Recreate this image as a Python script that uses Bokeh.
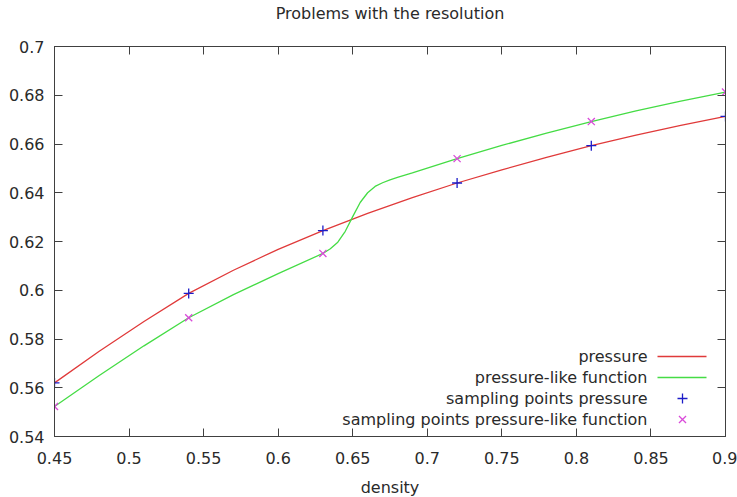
from bokeh.plotting import figure
from bokeh.models import LinearAxis, FixedTicker, Range1d, Label
from bokeh.embed import file_html
from bokeh.resources import INLINE

# ---------------- data ----------------
title_text = "Problems with the resolution"
x_label = "density"

curve_x_pressure = [0.45, 0.48, 0.51, 0.54, 0.57, 0.60, 0.63, 0.66, 0.69,
                    0.72, 0.75, 0.78, 0.81, 0.84, 0.87, 0.90]
curve_y_pressure = [0.5620, 0.5750, 0.5872, 0.5987, 0.6082, 0.6168, 0.6245,
                    0.6315, 0.6380, 0.6440, 0.6494, 0.6545, 0.6593, 0.6636,
                    0.6676, 0.6713]

curve_x_like = [0.45, 0.48, 0.51, 0.54, 0.57, 0.60, 0.63, 0.635, 0.64, 0.645,
                0.65, 0.655, 0.66, 0.665, 0.67, 0.675, 0.68, 0.69, 0.72, 0.75,
                0.78, 0.81, 0.84, 0.87, 0.90]
curve_y_like = [0.5523, 0.5650, 0.5772, 0.5887, 0.5982, 0.6068, 0.6151, 0.6170,
                0.6197, 0.6242, 0.6302, 0.6360, 0.6400, 0.6426, 0.6441, 0.6453,
                0.6463, 0.6482, 0.6540, 0.6594, 0.6645, 0.6692, 0.6736, 0.6776,
                0.6813]

sample_x = [0.45, 0.54, 0.63, 0.72, 0.81, 0.90]
sample_pressure = [0.5620, 0.5987, 0.6245, 0.6440, 0.6593, 0.6713]
sample_like = [0.5523, 0.5887, 0.6151, 0.6540, 0.6692, 0.6813]

x_ticks = [0.45, 0.5, 0.55, 0.6, 0.65, 0.7, 0.75, 0.8, 0.85, 0.9]
x_tick_labels = ["0.45", "0.5", "0.55", "0.6", "0.65", "0.7", "0.75", "0.8", "0.85", "0.9"]
y_ticks = [0.54, 0.56, 0.58, 0.6, 0.62, 0.64, 0.66, 0.68, 0.7]
y_tick_labels = ["0.54", "0.56", "0.58", "0.6", "0.62", "0.64", "0.66", "0.68", "0.7"]

legend_labels = ["pressure", "pressure-like function",
                 "sampling points pressure", "sampling points pressure-like function"]

# ---------------- styles ----------------
RED = "#e03a3a"
GREEN = "#45dc45"
BLUE = "#1c1cc8"
MAGENTA = "#d94ad9"
AXIS = "#404040"
TXT = "#2a2a2a"
FONT = "DejaVu Sans"
FS = "16px"

X0, X1 = 0.45, 0.9
Y0, Y1 = 0.54, 0.7
FW, FH = 671, 390

p = figure(frame_width=FW, frame_height=FH, output_backend="svg", toolbar_location=None,
           x_range=Range1d(X0, X1), y_range=Range1d(Y0, Y1),
           min_border_left=54, min_border_right=12, min_border_top=45, min_border_bottom=62,
           x_axis_label=x_label)
p.grid.visible = False
p.outline_line_color = AXIS
p.background_fill_color = "white"
p.border_fill_color = "white"

xt = FixedTicker(ticks=x_ticks, minor_ticks=[])
yt = FixedTicker(ticks=y_ticks, minor_ticks=[])
xo = {t: s for t, s in zip(x_ticks, x_tick_labels)}
yo = {t: s for t, s in zip(y_ticks, y_tick_labels)}

for ax in p.xaxis:
    ax.ticker = xt
    ax.major_label_overrides = xo
for ax in p.yaxis:
    ax.ticker = yt
    ax.major_label_overrides = yo

def style_axis(ax):
    ax.axis_line_color = AXIS
    ax.major_tick_line_color = AXIS
    ax.major_tick_in = 8
    ax.major_tick_out = 0
    ax.minor_tick_line_color = None
    ax.major_label_text_font = FONT
    ax.major_label_text_font_size = FS
    ax.major_label_text_color = TXT
    ax.axis_label_text_font = FONT
    ax.axis_label_text_font_size = FS
    ax.axis_label_text_font_style = "normal"
    ax.axis_label_text_color = TXT

for ax in p.xaxis + p.yaxis:
    style_axis(ax)
p.xaxis.major_label_standoff = 15
p.yaxis.major_label_standoff = 10
p.xaxis.axis_label_standoff = 11

# mirrored tick marks on top and right (gnuplot style), no tick labels;
# the top one carries the chart title, placed like gnuplot's
top = LinearAxis(ticker=FixedTicker(ticks=x_ticks, minor_ticks=[]))
right = LinearAxis(ticker=FixedTicker(ticks=y_ticks, minor_ticks=[]))
for ax in (top, right):
    style_axis(ax)
    ax.major_label_standoff = 0
top.major_label_overrides = {t: "" for t in x_ticks}
right.major_label_overrides = {t: "" for t in y_ticks}
top.axis_label = title_text
top.axis_label_standoff = 24
p.add_layout(top, "above")
p.add_layout(right, "right")

# curves
p.line(curve_x_pressure, curve_y_pressure, line_color=RED, line_width=1.3)
p.line(curve_x_like, curve_y_like, line_color=GREEN, line_width=1.3)
p.scatter(sample_x, sample_pressure, marker="cross", size=10, line_color=BLUE, line_width=1.3)
p.scatter(sample_x, sample_like, marker="x", size=10, line_color=MAGENTA, line_width=1.3)

# gnuplot-style legend (text right-aligned, sample on the right)
def dx(px):
    return X0 + (px / FW) * (X1 - X0)

def dy(py):
    return Y1 - (py / FH) * (Y1 - Y0)

text_right = 593
rows = [310, 331, 352, 373]
for lab, r in zip(legend_labels, rows):
    p.add_layout(Label(x=text_right, y=FH - r, x_units="screen", y_units="screen",
                       text=lab, text_align="right", text_baseline="middle",
                       text_font=FONT, text_font_size=FS, text_color=TXT))
p.line([dx(603), dx(652)], [dy(rows[0])] * 2, line_color=RED, line_width=1.3)
p.line([dx(603), dx(652)], [dy(rows[1])] * 2, line_color=GREEN, line_width=1.3)
p.scatter([dx(628)], [dy(rows[2])], marker="cross", size=10, line_color=BLUE, line_width=1.3)
p.scatter([dx(628)], [dy(rows[3])], marker="x", size=10, line_color=MAGENTA, line_width=1.3)

open("out.html", "w").write(file_html(p, INLINE))
